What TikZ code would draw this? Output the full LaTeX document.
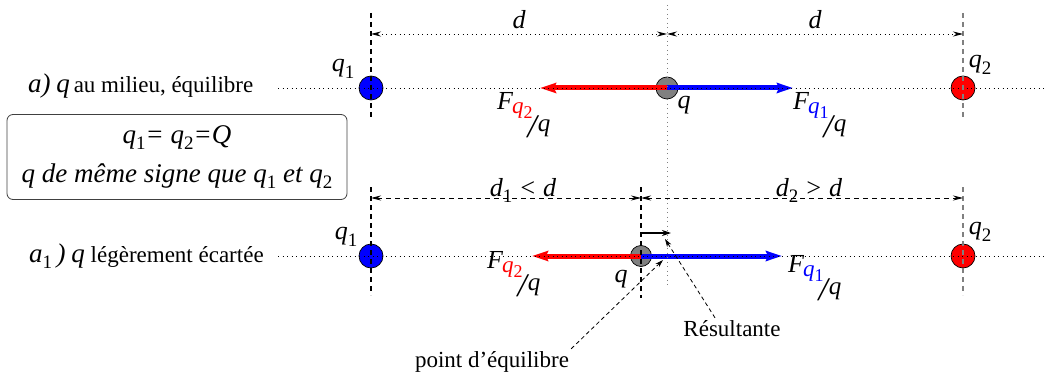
\documentclass[tikz,border=0pt]{standalone}
\usepackage{fontspec}
\setmainfont{Liberation Serif}
\usetikzlibrary{arrows.meta}

\newcommand{\mi}[1]{{\fontsize{27}{32}\selectfont\itshape #1}}
\newcommand{\lowidx}[1]{\raisebox{-0.25em}{\fontsize{19}{19}\selectfont\upshape #1}}
\newcommand{\Fq}[2]{F\kern-1pt\raisebox{-4pt}{\fontsize{23}{23}\selectfont\color{#1}q\raisebox{-5pt}{\fontsize{18}{18}\selectfont\upshape #2}}%
  \kern-5pt\raisebox{-28pt}{\fontsize{33}{33}\selectfont/}\kern1pt\raisebox{-22pt}{\fontsize{25}{25}\selectfont q}}

\begin{document}
\begin{tikzpicture}[
  x=1pt, y=-1pt,
  font=\fontsize{23}{27}\selectfont,
  charge/.style={circle, draw, line width=0.7pt, inner sep=0pt, minimum size=24pt},
  lab/.style={font=\fontsize{26}{30}\selectfont\itshape, inner sep=0pt},
  axis/.style={line width=0.9pt, dash pattern=on 0.9pt off 3.6pt},
  guide/.style={line width=1.1pt, dash pattern=on 5pt off 4pt},
  dimtip/.style={<->, >={Stealth[length=10pt,width=5pt]}},
  force/.style={line width=5pt, -{Stealth[length=16pt,width=10pt,inset=2pt]}},
  pointer/.style={line width=0.8pt, dash pattern=on 4pt off 3pt, -{Stealth[length=8pt,width=5pt]}}
]
\useasboundingbox (0,0) rectangle (1044,377);

% charges
\node[charge, fill=blue] (q1a) at (371,88) {};
\node[charge, fill=red] (q2a) at (963,88) {};
\node[charge, fill=gray, minimum size=22pt] (qa) at (667,88) {};
\node[charge, fill=blue] (q1b) at (371,256) {};
\node[charge, fill=red] (q2b) at (963,256) {};
\node[charge, fill=gray, minimum size=21pt] (qb) at (641,256) {};

% forces on q
\coordinate (f2a) at (540,88);
\coordinate (f1a) at (793,88);
\coordinate (f2b) at (532,256);
\coordinate (f1b) at (782,256);
\draw[force, red] (qa.center) -- (f2a);
\draw[force, blue] (qa.center) -- (f1a);
\draw[force, red] (qb.center) -- (f2b);
\draw[force, blue] (qb.center) -- (f1b);

% axes
\coordinate (axa0) at (278,88);
\coordinate (axa1) at (1044,88);
\coordinate (axb0) at (278,256);
\coordinate (axb1) at (1044,256);
\draw[axis] (axa0) -- (axa1);
\draw[axis] (axb0) -- (axb1);

% guides
\draw[guide] (q1a |- 0,13) -- (q1a |- 0,120);
\draw[guide, gray] (q2a |- 0,13) -- (q2a |- 0,120);
\draw[guide] (q1b |- 0,187) -- (q1b |- 0,295);
\draw[guide, gray] (q2b |- 0,187) -- (q2b |- 0,295);
\draw[guide] (qb |- 0,187) -- (qb |- 0,298);
\draw[axis, gray] (qa |- 0,5) -- (qa |- 0,285);

% distances
\draw[axis, dimtip] (q1a |- 0,34) -- (qa |- 0,34);
\draw[axis, dimtip] (qa |- 0,34) -- (q2a |- 0,34);
\draw[guide, line width=0.9pt, dimtip] (q1b |- 0,198) -- (qb |- 0,198);
\draw[guide, line width=0.9pt, dimtip] (qb |- 0,198) -- (q2b |- 0,198);
\node[lab, anchor=base] (da) at (519,29) {d};
\node[lab, anchor=base] (db) at (815,29) {d};
\node[lab, anchor=base] (d1) at (523,196) {d\lowidx{1} < d};
\node[lab, anchor=base] (d2) at (809,196) {d\lowidx{2} > d};

% labels
\node[lab] (lq1a) at (343,69) {q\lowidx{1}};
\node[lab] (lq2a) at (980,65) {q\lowidx{2}};
\node[lab] (lq1b) at (346,237) {q\lowidx{1}};
\node[lab] (lq2b) at (980,232) {q\lowidx{2}};
\node[lab, anchor=base] (lqa) at (684,109) {q};
\node[lab, anchor=base] (lqb) at (621,282) {q};
\node[lab, anchor=base west] (lf2a) at (497,110) {\Fq{red}{2}};
\node[lab, anchor=base west] (lf1a) at (793,110) {\Fq{blue}{1}};
\node[lab, anchor=base west] (lf2b) at (487,268) {\Fq{red}{2}};
\node[lab, anchor=base west] (lf1b) at (788,272) {\Fq{blue}{1}};

\node[draw=black!75, rounded corners=6pt, line width=0.8pt, minimum width=340pt, minimum height=85pt,
  align=center, font=\fontsize{27}{39}\selectfont\itshape] (cond) at (177,157)
  {q\lowidx{1}= q\lowidx{2}=Q\\q de même signe que q\lowidx{1} et q\lowidx{2}};

\node[anchor=base west, inner sep=0pt] (casa) at (28,93) {\mi{a)}\ \mi{q}\,au milieu, équilibre};
\node[anchor=base west, inner sep=0pt] (casb) at (29,262) {\mi{a\lowidx{1}\,)}\ \mi{q} légèrement écartée};

% resultante
\coordinate (r0) at (641,233);
\coordinate (r1) at (671,233);
\draw[line width=1.6pt, -{Stealth[length=9pt,width=6pt]}] (r0) -- (r1);

\node[anchor=base, inner sep=2pt] (res) at (732,336) {Résultante};
\node[anchor=base, inner sep=2pt] (equ) at (492,367) {point d’équilibre};
\coordinate (rtip) at (665,239);
\coordinate (etip) at (663,260);
\draw[pointer] ([xshift=-17pt]res.north) -- (rtip);
\draw[pointer] (equ.north east) -- (etip);
\end{tikzpicture}
\end{document}
